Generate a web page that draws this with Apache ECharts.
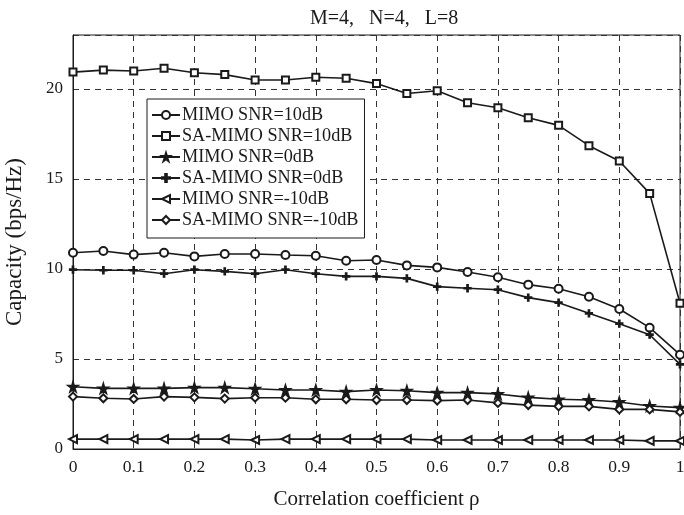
<!DOCTYPE html>
<html>
<head>
<meta charset="utf-8">
<script src="https://cdn.jsdelivr.net/npm/echarts@6/dist/echarts.min.js"></script>
<style>
  html, body { margin: 0; padding: 0; background: #fff; }
  #chart { width: 684px; height: 515px; }
</style>
</head>
<body>
<div id="chart"></div>
<script>
// correlation coefficient rho, step 0.05
const rho = [0, 0.05, 0.1, 0.15, 0.2, 0.25, 0.3, 0.35, 0.4, 0.45, 0.5,
             0.55, 0.6, 0.65, 0.7, 0.75, 0.8, 0.85, 0.9, 0.95, 1];

const mimo10 = [10.9, 11.0, 10.8, 10.9, 10.7, 10.83, 10.83, 10.78, 10.74, 10.46, 10.5,
                10.2, 10.09, 9.83, 9.54, 9.13, 8.9, 8.46, 7.78, 6.74, 5.24];
const saMimo10 = [20.94, 21.05, 21.0, 21.15, 20.9, 20.8, 20.5, 20.5, 20.65, 20.6, 20.3,
                  19.75, 19.9, 19.24, 18.96, 18.4, 17.98, 16.85, 16.0, 14.2, 8.1];
const mimo0 = [3.46, 3.37, 3.37, 3.37, 3.41, 3.41, 3.35, 3.28, 3.28, 3.19, 3.28,
               3.24, 3.13, 3.13, 3.06, 2.87, 2.76, 2.72, 2.61, 2.39, 2.3];
const saMimo0 = [9.96, 9.93, 9.93, 9.74, 9.96, 9.87, 9.74, 9.96, 9.74, 9.59, 9.59,
                 9.48, 9.02, 8.93, 8.85, 8.41, 8.13, 7.54, 6.96, 6.35, 4.7];
const mimoM10 = [0.55, 0.55, 0.55, 0.55, 0.55, 0.55, 0.5, 0.55, 0.55, 0.55, 0.55,
                 0.55, 0.5, 0.5, 0.5, 0.5, 0.5, 0.5, 0.5, 0.45, 0.45];
const saMimoM10 = [2.91, 2.82, 2.78, 2.91, 2.87, 2.8, 2.85, 2.85, 2.76, 2.76, 2.72,
                   2.72, 2.69, 2.72, 2.56, 2.44, 2.37, 2.37, 2.2, 2.2, 2.06];

const seriesNames = ['MIMO SNR=10dB', 'SA-MIMO SNR=10dB', 'MIMO SNR=0dB',
                     'SA-MIMO SNR=0dB', 'MIMO SNR=-10dB', 'SA-MIMO SNR=-10dB'];
const seriesData = [mimo10, saMimo10, mimo0, saMimo0, mimoM10, saMimoM10];

const starPath = 'path://M50,0 L61,35 L98,35 L68,57 L79,91 L50,70 L21,91 L32,57 L2,35 L39,35 Z';
const plusPath = 'path://M40,0 L60,0 L60,40 L100,40 L100,60 L60,60 L60,100 L40,100 L40,60 L0,60 L0,40 L40,40 Z';

const markers = [
    {symbol: 'emptyCircle', size: 8, rotate: 0},
    {symbol: 'emptyRect', size: 7, rotate: 0},
    {symbol: starPath, size: 11, rotate: 0},
    {symbol: plusPath, size: 7, rotate: 0},
    {symbol: 'emptyTriangle', size: 8, rotate: 90},
    {symbol: 'emptyDiamond', size: 8, rotate: 0}
];

const serif = '"Liberation Serif", "DejaVu Serif", serif';
const ink = '#1a1a1a';

const chart = echarts.init(document.getElementById('chart'));

chart.setOption({
    animation: false,
    title: {
        text: 'M=4,   N=4,   L=8',
        left: 305,
        top: 4,
        textStyle: {fontFamily: serif, fontSize: 20, fontWeight: 'normal', color: ink}
    },
    legend: {
        orient: 'vertical',
        left: 147,
        top: 99,
        data: seriesNames,
        itemWidth: 28,
        itemHeight: 10,
        itemGap: 3,
        padding: [7, 6, 9, 4],
        borderColor: ink,
        borderWidth: 1,
        backgroundColor: '#fff',
        textStyle: {fontFamily: serif, fontSize: 18.2, color: ink, padding: [0, 0, 0, -3]}
    },
    grid: {
        left: 73,
        right: 4,
        top: 35,
        bottom: 66,
        outerBoundsMode: 'none',
        show: true,
        borderColor: ink,
        borderWidth: 1
    },
    xAxis: {
        type: 'value',
        min: 0,
        max: 1,
        interval: 0.1,
        name: 'Correlation coefficient ρ',
        nameLocation: 'middle',
        nameGap: 40,
        nameTextStyle: {fontFamily: serif, fontSize: 21, color: ink},
        axisLine: {lineStyle: {color: ink}},
        axisTick: {show: false},
        axisLabel: {fontFamily: serif, fontSize: 17.5, color: ink, margin: 9},
        splitLine: {lineStyle: {color: '#333', type: [6, 5], width: 1}}
    },
    yAxis: {
        type: 'value',
        min: 0,
        max: 23,
        interval: 5,
        name: 'Capacity (bps/Hz)',
        nameLocation: 'middle',
        nameGap: 47,
        nameTextStyle: {fontFamily: serif, fontSize: 23, color: ink},
        axisLine: {show: true, lineStyle: {color: ink}},
        axisTick: {show: false},
        axisLabel: {fontFamily: serif, fontSize: 17, color: ink, margin: 10, showMaxLabel: false},
        splitLine: {lineStyle: {color: '#333', type: [6, 5], width: 1}}
    },
    series: seriesNames.map((name, i) => ({
        name: name,
        type: 'line',
        data: rho.map((x, j) => [x, seriesData[i][j]]),
        symbol: markers[i].symbol,
        symbolSize: markers[i].size,
        symbolRotate: markers[i].rotate,
        showAllSymbol: true,
        lineStyle: {color: ink, width: 1.6},
        itemStyle: {color: ink, borderColor: ink, borderWidth: 1.3},
        z: 3
    }))
});
</script>
</body>
</html>
